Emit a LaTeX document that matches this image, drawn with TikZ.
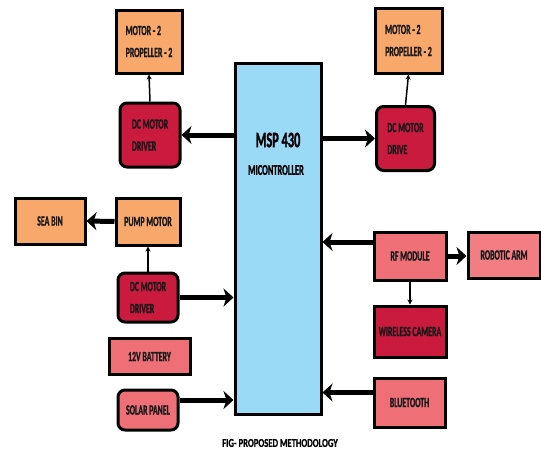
\documentclass[tikz,border=0pt]{standalone}
\usepackage{fontspec}
\setmainfont{Carlito}[FakeStretch=0.56,BoldFont=Carlito Bold,BoldFeatures={FakeBold=1.2}]
\newfontfamily\capfont{Carlito}[FakeStretch=0.72,BoldFont=Carlito Bold,BoldFeatures={FakeBold=0.8}]
\usetikzlibrary{arrows.meta}
\definecolor{boxorange}{HTML}{F9A86C}
\definecolor{boxcrimson}{HTML}{CA1A3E}
\definecolor{boxsalmon}{HTML}{EE7076}
\definecolor{boxpink}{HTML}{F27E84}
\definecolor{mcublue}{HTML}{9BDAF6}
\begin{document}
\begin{tikzpicture}[x=1pt,y=-1pt,
	blk/.style={draw=black,line width=3pt,inner sep=0pt,align=left,
		font=\fontsize{14}{22}\selectfont\bfseries,text=black!90},
	rblk/.style={blk,rounded corners=7pt},
	bigarrow/.style={line width=5pt,-{Stealth[length=10pt,width=18pt,inset=3pt]}},
	smallarrow/.style={line width=1.5pt,-{Stealth[length=5pt,width=5pt]}}]
			\useasboundingbox (0,0) rectangle (541,451);
			
			\node[draw=black,line width=3pt,fill=mcublue,minimum width=86pt,minimum height=351pt] (mcu) at (278,238.5) {};
			\node[font=\fontsize{22}{22}\selectfont\bfseries] (msp) at (278,140) {MSP 430};
			\node[font=\fontsize{15}{15}\selectfont\bfseries] (mictext) at (276,170) {MICONTROLLER};
			
			\node[blk,fill=boxorange,minimum width=66pt,minimum height=63pt] (motl) at (149,41.5) {MOTOR - 2\\PROPELLER - 2};
			\node[rblk,fill=boxcrimson,minimum width=60pt,minimum height=64pt] (drvl) at (150,135) {DC MOTOR\\DRIVER};
			\node[blk,fill=boxorange,minimum width=67pt,minimum height=65pt] (motr) at (408.5,40.5) {MOTOR - 2\\PROPELLER - 2};
			\node[rblk,fill=boxcrimson,minimum width=58pt,minimum height=64pt] (drvr) at (405.5,138.5) {DC MOTOR\\DRIVE};
			
			\node[blk,fill=boxorange,minimum width=70pt,minimum height=46pt] (seabin) at (50,221) {SEA BIN};
			\node[blk,fill=boxorange,minimum width=64pt,minimum height=47pt] (pump) at (148,221.5) {PUMP MOTOR};
			\node[rblk,fill=boxcrimson,minimum width=60pt,minimum height=49pt] (drvp) at (148,297.5) {DC MOTOR\\DRIVER};
			\node[blk,fill=boxsalmon,minimum width=81pt,minimum height=36pt] (battery) at (149.5,356.5) {12V BATTERY};
			\node[rblk,fill=boxsalmon,minimum width=60pt,minimum height=40pt] (solar) at (148,410) {SOLAR PANEL};
			
			\node[blk,fill=boxsalmon,minimum width=72pt,minimum height=48pt] (rf) at (410,256) {RF MODULE};
			\node[blk,fill=boxpink,minimum width=72pt,minimum height=46pt] (arm) at (504,255) {ROBOTIC ARM};
			\node[blk,fill=boxcrimson,minimum width=72pt,minimum height=51pt] (cam) at (410,331.5) {WIRELESS CAMERA};
			\node[blk,fill=boxsalmon,minimum width=71pt,minimum height=49pt] (bt) at (409.5,402.5) {BLUETOOTH};
			
			\node[font=\fontsize{12}{12}\selectfont\capfont\bfseries] (caption) at (280,443) {FIG- PROPOSED METHODOLOGY};
			
			\draw[bigarrow] (mcu.west |- drvl.east) -- (drvl.east);
			\draw[bigarrow] (mcu.east |- drvr.west) -- (drvr.west);
			\draw[smallarrow] (drvl.north) -- (motl.south);
			\draw[smallarrow] (drvr.north) -- (motr.south);
			
			\draw[bigarrow] (pump.west) -- (seabin.east);
			\draw[smallarrow] (drvp.north) -- (pump.south);
			\draw[bigarrow] (drvp.east) -- (drvp.east -| mcu.west);
			\draw[bigarrow] ([yshift=10pt]solar.east) -- ([yshift=10pt]solar.east -| mcu.west);
			
			\draw[bigarrow] ([yshift=14pt]rf.west) -- ([yshift=14pt]rf.west -| mcu.east);
			\draw[bigarrow] (rf.east) -- (rf.east -| arm.west);
			\draw[smallarrow] (rf.south) -- (cam.north);
			\draw[bigarrow] ([yshift=10pt]bt.west) -- ([yshift=10pt]bt.west -| mcu.east);
		\end{tikzpicture}
\end{document}
